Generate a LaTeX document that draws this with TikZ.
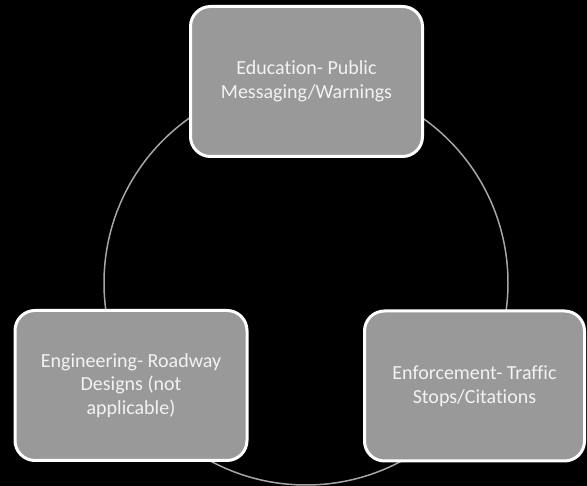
\documentclass[tikz,border=0pt]{standalone}
\usepackage{fontspec}
\setmainfont{Carlito}[Ligatures=NoCommon]
\usetikzlibrary{positioning}

\definecolor{boxgray}{HTML}{999999}
\definecolor{ringgray}{HTML}{A6A6A6}
\definecolor{textwhite}{HTML}{F2F2F2}

\tikzstyle{stage} = [rectangle, rounded corners=20pt, minimum width=232pt,
minimum height=150pt, text centered, align=center, fill=boxgray,
draw=white, line width=3pt, text=textwhite, font=\fontsize{20}{23.5}\selectfont]
\tikzstyle{ring} = [draw=ringgray, line width=1.5pt]

\begin{document}
\begin{tikzpicture}[x=1pt, y=-1pt]
    % Background
    \fill[black] (0,0) rectangle (587,486);
    \useasboundingbox (0,0) rectangle (587,486);
    % Cycle ring
    \coordinate (hub) at (306,283);
    \draw [ring] (hub) circle [radius=202pt];
    % Stages
    \node (EDU) [stage] at (306.5,81.5) {Education- Public\\Messaging/Warnings};
    \node (ENG) [stage] at (131,385.5) {Engineering- Roadway\\Designs (not\\applicable)};
    \node (ENF) [stage, minimum width=220pt] at (474.5,386) {Enforcement- Traffic\\Stops/Citations};
\end{tikzpicture}
\end{document}
